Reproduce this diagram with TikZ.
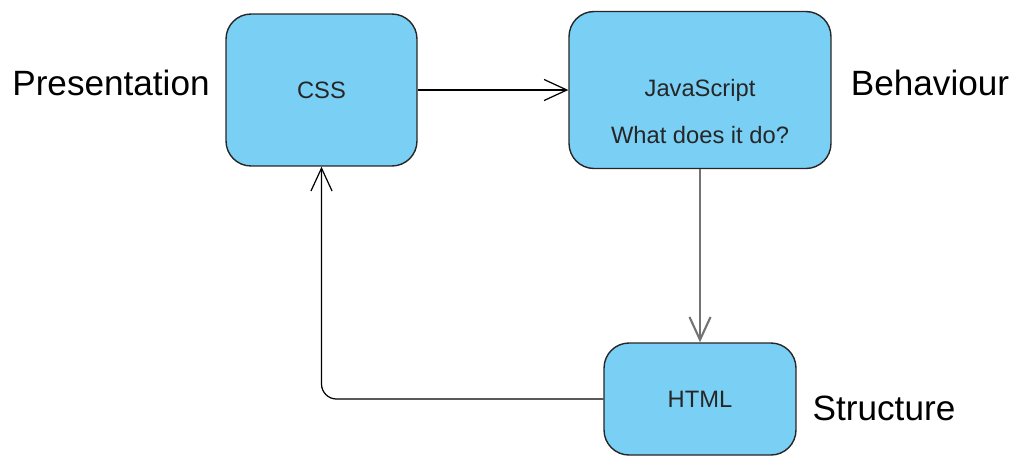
\documentclass[tikz,border=0pt]{standalone}
\usepackage{fontspec}
\setmainfont{Liberation Sans}
\usetikzlibrary{arrows.meta}
\definecolor{layerblue}{RGB}{122,207,244}
\tikzstyle{layer}=[draw=black!85,fill=layerblue,rounded corners=0.5cm,line width=0.8pt,inner sep=0pt]
\tikzstyle{layertext}=[text=black!85,font=\fontsize{13.5}{16}\selectfont,align=center,inner sep=0pt]
\tikzstyle{role}=[font=\fontsize{20}{24}\selectfont,inner sep=0pt]
\tikzstyle{link} = [draw,line width=0.7pt,-{Straight Barb[length=13pt,width=12pt]}]

\begin{document}
\begin{tikzpicture}[x=0.02cm,y=-0.02cm]
    \useasboundingbox (0,0) rectangle (1016,457);
    % The three layers of a web page
    \node[layer,layertext,minimum width=3.82cm,minimum height=3.04cm] (css) at (321.5,90) {CSS};
    \node[layer,minimum width=5.24cm,minimum height=3.14cm] (js) at (700,90) {};
    \node[layertext] (jstext) at (700,111.5) {JavaScript\\[10.5pt]What does it do?};
    \node[layer,layertext,minimum width=3.84cm,minimum height=2.24cm] (html) at (700,399) {HTML};
    % What each layer stands for
    \foreach \pos/\name/\txt in {{(111,83)/pres/Presentation}, {(930,83)/beh/Behaviour}, {(884,408)/struct/Structure}}
        \node[role] (\name) at \pos {\txt};
    % Connect the layers
    \path[link] (css) -- (js);
    \path[link,draw=black!55,line width=1.2pt] (js) -- (html);
    \path[link,rounded corners=0.3cm] (html.west) -| (css.south);
\end{tikzpicture}
\end{document}
